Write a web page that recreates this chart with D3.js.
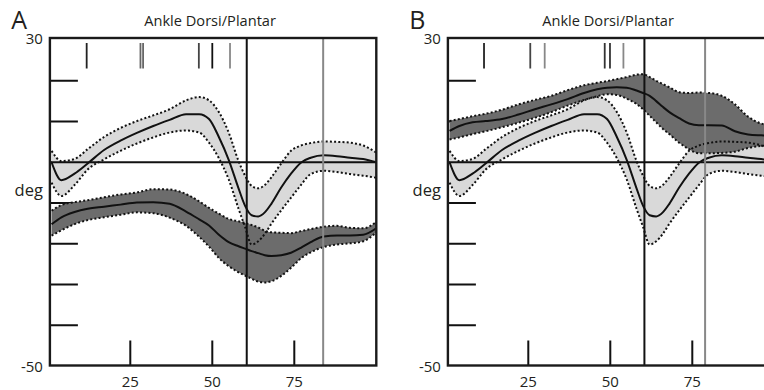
<!DOCTYPE html>
<html>
<head>
<meta charset="utf-8">
<script src="https://cdn.jsdelivr.net/npm/d3@7/dist/d3.min.js"></script>
<style>
  html, body { margin: 0; padding: 0; background: #fff; }
  svg { display: block; }
  text { font-family: "Open Sans", "Noto Sans", sans-serif; fill: #231f20; }
</style>
</head>
<body>
<svg id="chart" width="764" height="390"></svg>
<script>
// ---- Data (gait cycle %, ankle angle in degrees) ----
const pct = [1, 4, 8, 12, 17, 22, 27, 32, 37, 42, 46, 49, 52, 55, 58, 60, 62, 64, 66, 68, 71, 74, 77, 80, 84, 88, 92, 96, 100];

// normative (light band) – same in both panels
const normMean  = [0, -4.4, -2.8, -0.3, 3, 5.3, 7.2, 8.9, 10.4, 11.8, 11.8, 10.6, 6.2, 0.6, -6.4, -10.7, -13, -13.3, -12.3, -10.2, -6.2, -2.8, -0.1, 1.1, 1.7, 1.5, 1.1, 0.8, 0];
const normUpper = [2.8, 0.3, 0.8, 3.2, 6.2, 8.4, 10.1, 11.5, 13, 15.2, 16, 15.2, 12.3, 7.3, 0.3, -3.3, -5.8, -6.4, -5.6, -3.7, -0.3, 2.8, 4.1, 4.7, 5.1, 5, 4.8, 4.1, 2.4];
const normLower = [-5, -8.3, -5.6, -1.8, 0.7, 2.8, 4.6, 6.1, 7.3, 7.8, 7.3, 4.8, 1, -4.2, -11.4, -15.9, -20.2, -19.4, -17.6, -15.1, -11.8, -8.7, -5.6, -2.9, -2.1, -2.4, -2.9, -3.3, -3.8];

// panel A subject (dark band)
const aMean  = [-15.2, -13.5, -12.2, -11.4, -10.9, -10.4, -9.9, -9.8, -10.2, -12.1, -14, -15.5, -17.8, -19.6, -20.6, -21.2, -21.8, -22.3, -22.8, -23, -22.8, -22.2, -21, -19.6, -18.2, -18, -18, -17.8, -16.2];
const aUpper = [-11.9, -10.5, -9.8, -9.3, -8.6, -7.9, -7.4, -6.6, -6.7, -7.8, -9.6, -11.2, -12.6, -13.9, -14.5, -14.9, -15.4, -16, -16.8, -17.2, -17.3, -17.4, -16.9, -16.4, -15.8, -15.6, -16.1, -16.2, -14.6];
const aLower = [-18, -16.7, -15.2, -14.2, -13.5, -12.9, -12.3, -12.5, -13.6, -15.6, -18.3, -20.7, -23.5, -25.5, -27, -27.8, -28.6, -29.3, -29.5, -29.2, -27.9, -25.9, -23.6, -22.1, -20.8, -20.2, -19.9, -19.4, -17.2];

// panel B subject (dark band)
const bMean  = [7.7, 8.9, 9.8, 10.1, 10.6, 11.7, 13, 14.2, 15.5, 17, 17.9, 18.3, 18.4, 18.3, 17.6, 17, 16.3, 15, 13.6, 12.3, 10.8, 9.5, 9.1, 9.1, 9, 7.6, 6.8, 6.6, 6.5];
const bUpper = [10.1, 10.6, 11.3, 11.9, 12.9, 14.2, 15.3, 16.3, 17.7, 18.9, 19.5, 19.9, 20.4, 20.9, 21.5, 21.6, 20.9, 20, 19.2, 18.4, 17.2, 17, 17.1, 17, 16.3, 14.2, 11.2, 9.5, 9];
const bLower = [5.6, 6.1, 6.9, 7.6, 8.6, 9.7, 10.9, 12.3, 13.9, 15.3, 16.2, 16.7, 16.5, 15.6, 14.3, 13, 11.4, 9.8, 8.2, 6.9, 4.8, 3.2, 2.2, 2.2, 2.3, 2.6, 3.5, 4, 4.2];

// event markers (% of gait cycle)
const aTopTicks = [11.7, 28.1, 28.9, 45.9, 50, 55.4];
const aTopTickColors = ["#222", "#666", "#666", "#444", "#111", "#888"];
const aFullLines = [60.5, 83.8];
const aFullLineColors = ["#111", "#888"];

const bTopTicks = [11.5, 25.6, 30, 48.3, 49.9, 54];
const bTopTickColors = ["#222", "#444", "#888", "#333", "#333", "#888"];
const bFullLines = [60.4, 78.9];
const bFullLineColors = ["#111", "#888"];

const xTickValues = [25, 50, 75];
const yTickValues = [20, 10, 0, -10, -20, -30, -40];
const panelLabels = ["A", "B"];
const titleText = "Ankle Dorsi/Plantar";
const yTopLabel = "30", yBottomLabel = "-50", yUnitLabel = "deg";

// ---- Drawing ----
const svg = d3.select("#chart");
const LIGHT = "#d9d9d9", DARK = "#6c6c6c";

function drawPanel(idx, x0, subj, tops, topColors, fulls, fullColors) {
  const x = d3.scaleLinear().domain([0, 100]).range([x0, x0 + 328]);
  const y = d3.scaleLinear().domain([-50, 30]).range([366, 40]);
  const frameL = x0 + 1.6, frameR = Math.min(x(100), 376.5 + (x0 - 48.3));
  const frameT = 38, frameB = 365.5;

  const g = svg.append("g");
  const clipId = "clip" + idx;
  g.append("clipPath").attr("id", clipId)
    .append("rect").attr("x", frameL).attr("y", frameT).attr("width", frameR - frameL).attr("height", frameB - frameT);

  const inner = g.append("g").attr("clip-path", `url(#${clipId})`);

  // left tick marks
  inner.selectAll(".ytick").data(yTickValues).join("line")
    .attr("x1", frameL).attr("x2", frameL + 28)
    .attr("y1", d => y(d)).attr("y2", d => y(d))
    .attr("stroke", "#111").attr("stroke-width", 2);

  const area = (lo, hi) => d3.area().curve(d3.curveMonotoneX)
    .x((d, i) => x(pct[i])).y0((d, i) => y(lo[i])).y1((d, i) => y(hi[i]))(pct);
  const line = (vals) => d3.line().curve(d3.curveMonotoneX)
    .x((d, i) => x(pct[i])).y((d, i) => y(vals[i]))(pct);

  inner.append("path").attr("d", area(normLower, normUpper)).attr("fill", LIGHT);
  inner.append("path").attr("d", area(subj.lower, subj.upper)).attr("fill", DARK);

  [normUpper, normLower, subj.upper, subj.lower].forEach(v => {
    inner.append("path").attr("d", line(v)).attr("fill", "none")
      .attr("stroke", "#111").attr("stroke-width", 2).attr("stroke-dasharray", "2,2.2");
  });
  [normMean, subj.mean].forEach(v => {
    inner.append("path").attr("d", line(v)).attr("fill", "none")
      .attr("stroke", "#111").attr("stroke-width", 2);
  });

  // zero line
  inner.append("line").attr("x1", frameL).attr("x2", frameR)
    .attr("y1", y(0)).attr("y2", y(0)).attr("stroke", "#111").attr("stroke-width", 1.8);

  // full-height event lines
  inner.selectAll(".full").data(fulls).join("line")
    .attr("x1", d => x(d)).attr("x2", d => x(d))
    .attr("y1", frameT).attr("y2", frameB)
    .attr("stroke", (d, i) => fullColors[i]).attr("stroke-width", 2);

  // top event ticks
  inner.selectAll(".top").data(tops).join("line")
    .attr("x1", d => x(d)).attr("x2", d => x(d))
    .attr("y1", 43).attr("y2", 68.5)
    .attr("stroke", (d, i) => topColors[i]).attr("stroke-width", 1.8);

  // bottom ticks
  inner.selectAll(".xtick").data(xTickValues).join("line")
    .attr("x1", d => x(d)).attr("x2", d => x(d))
    .attr("y1", frameB - 25).attr("y2", frameB)
    .attr("stroke", "#111").attr("stroke-width", 2);

  // frame
  g.append("rect").attr("x", frameL).attr("y", frameT)
    .attr("width", frameR - frameL).attr("height", frameB - frameT)
    .attr("fill", "none").attr("stroke", "#1a1a1a").attr("stroke-width", 2.4);

  // texts
  g.append("text").attr("x", x0 - 37).attr("y", 28.5).attr("font-size", 25).text(panelLabels[idx]);
  g.append("text").attr("x", (frameL + x(100)) / 2 - 3).attr("y", 25.5)
    .attr("text-anchor", "middle").attr("font-size", 14.6).text(titleText);
  g.append("text").attr("x", frameL - 7).attr("y", 43.5).attr("text-anchor", "end").attr("font-size", 15).text(yTopLabel);
  g.append("text").attr("x", frameL - 7).attr("y", 195.5).attr("text-anchor", "end").attr("font-size", 16.5).text(yUnitLabel);
  g.append("text").attr("x", frameL - 7).attr("y", 371.5).attr("text-anchor", "end").attr("font-size", 15).text(yBottomLabel);
  g.selectAll(".xlab").data(xTickValues).join("text")
    .attr("x", d => x(d)).attr("y", 386.5).attr("text-anchor", "middle").attr("font-size", 15).text(d => d);
}

drawPanel(0, 48.3, {mean: aMean, upper: aUpper, lower: aLower}, aTopTicks, aTopTickColors, aFullLines, aFullLineColors);
drawPanel(1, 446.3, {mean: bMean, upper: bUpper, lower: bLower}, bTopTicks, bTopTickColors, bFullLines, bFullLineColors);
</script>
</body>
</html>
